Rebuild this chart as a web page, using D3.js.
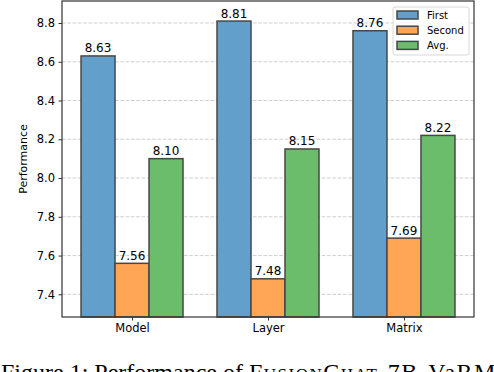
<!DOCTYPE html>
<html>
<head>
<meta charset="utf-8">
<script src="https://cdn.jsdelivr.net/npm/d3@7"></script>
<style>
  body { margin: 0; background: #fff; }
  svg { display: block; }
</style>
</head>
<body>
<script>
const categories = ['Model', 'Layer', 'Matrix'];
const seriesNames = ['First', 'Second', 'Avg.'];
const first = [8.63, 8.81, 8.76];
const second = [7.56, 7.48, 7.69];
const avg = [8.10, 8.15, 8.22];
const yTicks = [7.4, 7.6, 7.8, 8.0, 8.2, 8.4, 8.6, 8.8];
const colors = ['#62a0cb', '#ffa556', '#6bbc6b'];

const width = 494, height = 372;
const mLeft = 62, mRight = 474, mTop = 1, mBottom = 317;

const svg = d3.select('body').append('svg')
  .attr('width', width)
  .attr('height', height);

const x = d3.scaleLinear().domain([-0.515, 2.515]).range([mLeft, mRight]);
const y = d3.scaleLinear().domain([7.283, 8.9135]).range([mBottom, mTop]);
const bw = x(0.25) - x(0);

// grid
svg.append('g')
  .selectAll('line')
  .data(yTicks)
  .enter().append('line')
  .attr('x1', mLeft).attr('x2', mRight)
  .attr('y1', d => y(d)).attr('y2', d => y(d))
  .attr('stroke', '#cfcfcf')
  .attr('stroke-width', 1)
  .attr('stroke-dasharray', '3.7,1.6');

// bars
const series = [first, second, avg];
series.forEach((vals, s) => {
  const g = svg.append('g');
  g.selectAll('rect')
    .data(vals)
    .enter().append('rect')
    .attr('x', (d, i) => x(i + (s - 1) * 0.25) - bw / 2)
    .attr('y', d => y(d))
    .attr('width', bw)
    .attr('height', d => mBottom - y(d))
    .attr('fill', colors[s])
    .attr('stroke', '#474747')
    .attr('stroke-width', 1.5);

  g.selectAll('text')
    .data(vals)
    .enter().append('text')
    .attr('x', (d, i) => x(i + (s - 1) * 0.25))
    .attr('y', d => y(d) - 3.5)
    .attr('text-anchor', 'middle')
    .attr('font-family', 'DejaVu Sans')
    .attr('font-size', 12)
    .attr('fill', '#000')
    .text(d => d.toFixed(2));
});

// axes
const yAxis = svg.append('g')
  .attr('transform', `translate(${mLeft},0)`)
  .call(d3.axisLeft(y).tickValues(yTicks).tickFormat(d3.format('.1f')).tickSize(3.5).tickPadding(3.5));
const xAxis = svg.append('g')
  .attr('transform', `translate(0,${mBottom})`)
  .call(d3.axisBottom(x).tickValues([0, 1, 2]).tickFormat(i => categories[i]).tickSize(3.5).tickPadding(3.5));
[yAxis, xAxis].forEach(a => {
  a.select('.domain').remove();
  a.selectAll('line').attr('stroke', '#333');
  a.selectAll('text')
    .attr('font-family', 'DejaVu Sans')
    .attr('font-size', 11.5)
    .attr('fill', '#000');
});

// frame
svg.append('rect')
  .attr('x', mLeft).attr('y', mTop)
  .attr('width', mRight - mLeft).attr('height', mBottom - mTop)
  .attr('fill', 'none')
  .attr('stroke', '#333')
  .attr('stroke-width', 1.2);

svg.append('text')
  .attr('transform', `translate(27,${(mTop + mBottom) / 2}) rotate(-90)`)
  .attr('text-anchor', 'middle')
  .attr('font-family', 'DejaVu Sans')
  .attr('font-size', 11)
  .text('Performance');

// legend
const lg = svg.append('g').attr('transform', 'translate(393,7)');
lg.append('rect')
  .attr('width', 76).attr('height', 48)
  .attr('rx', 2)
  .attr('fill', '#fff')
  .attr('fill-opacity', 0.8)
  .attr('stroke', '#d8d8d8');
const items = lg.selectAll('g.item')
  .data(seriesNames)
  .enter().append('g')
  .attr('transform', (d, i) => `translate(4,${4 + i * 15.2})`);
items.append('rect')
  .attr('width', 21).attr('height', 8)
  .attr('fill', (d, i) => colors[i])
  .attr('stroke', '#474747')
  .attr('stroke-width', 1.5);
items.append('text')
  .attr('x', 30).attr('y', 4)
  .attr('dy', '0.35em')
  .attr('font-family', 'DejaVu Sans')
  .attr('font-size', 10)
  .text(d => d);

// caption (cut off at the bottom edge, as in the source figure)
const cap = svg.append('text')
  .attr('x', 1).attr('y', 380)
  .attr('font-family', 'Liberation Serif')
  .attr('font-size', 24)
  .attr('fill', '#000');
cap.append('tspan').text('Figure 1: Performance of ');
cap.append('tspan').attr('font-variant', 'small-caps').attr('letter-spacing', 1.5).text('FusionChat');
cap.append('tspan').attr('letter-spacing', 1.5).text('-7B-VaRM');
</script>
</body>
</html>
